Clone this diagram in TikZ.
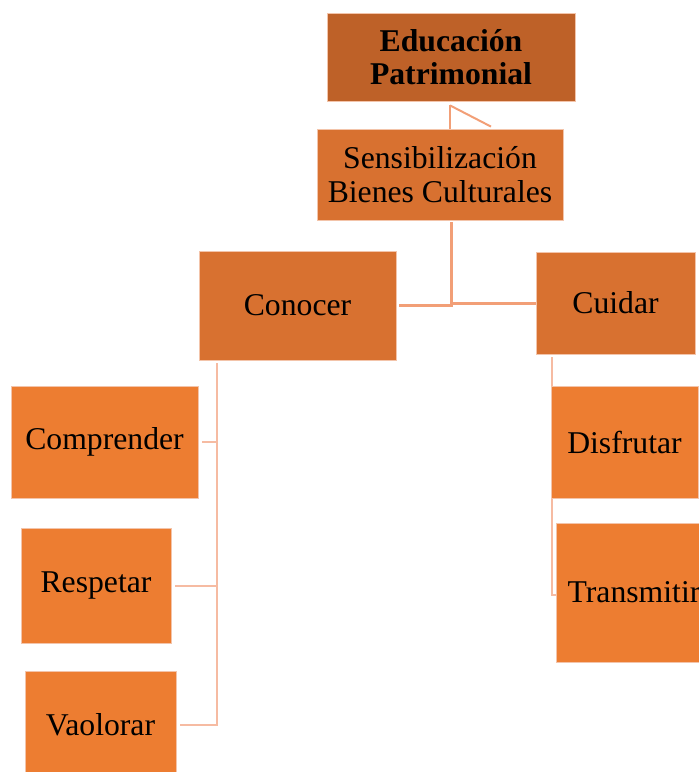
\documentclass[tikz,border=0pt]{standalone}
\usepackage{fontspec}
\setmainfont{Liberation Serif}
\usetikzlibrary{backgrounds}
\definecolor{topfill}{HTML}{BE6128}
\definecolor{midfill}{HTML}{D87130}
\definecolor{leaffill}{HTML}{ED7D31}
\definecolor{linkcol}{HTML}{F29F77}
\definecolor{leafline}{HTML}{F6BBA2}
\definecolor{boxedge}{HTML}{F3C4AA}
\tikzstyle{topbox} = [rectangle, minimum width=124pt, minimum height=44pt, inner sep=0pt, align=center, draw=boxedge, fill=topfill, font=\fontsize{15.85}{16.5}\selectfont\bfseries]
\tikzstyle{midbox} = [rectangle, inner sep=0pt, align=center, draw=boxedge, fill=midfill, font=\fontsize{15.85}{17}\selectfont]
\tikzstyle{leafbox} = [rectangle, inner sep=0pt, align=center, draw=boxedge, fill=leaffill, font=\fontsize{15.85}{17}\selectfont]
\tikzstyle{link} = [line width=1.5pt, draw=linkcol]
\tikzstyle{leaflink} = [line width=1pt, draw=leafline]

\begin{document}
\begin{tikzpicture}[node distance=68pt]
            \useasboundingbox (0,0) rectangle (349.5pt,-386pt);
            \clip (0,0) rectangle (349.5pt,-386pt);
            \node (edu) [topbox] at (225.5pt,-28.5pt) {Educación\\Patrimonial};
            \node (sens) [midbox, minimum width=123pt, minimum height=45.5pt, below of=edu, xshift=-5.5pt, yshift=9.25pt] {Sensibilización\\Bienes Culturales};
            \node (conocer) [midbox, minimum width=98.5pt, minimum height=54.5pt, below of=sens, xshift=-71.25pt, yshift=2.5pt] {Conocer};
            \node (cuidar) [midbox, minimum width=79.5pt, minimum height=51pt, below of=sens, xshift=87.75pt, yshift=3.75pt] {Cuidar};
            \node (comprender) [leafbox, minimum width=93.5pt, minimum height=56pt, below of=conocer, xshift=-96.5pt, yshift=-0.25pt] {Comprender};
            \node (respetar) [leafbox, minimum width=75pt, minimum height=57.5pt, below of=comprender, xshift=-4.25pt, yshift=-3.75pt] {Respetar};
            \node (vaolorar) [leafbox, minimum width=75.5pt, minimum height=54pt, below of=respetar, xshift=2.25pt, yshift=-1.75pt] {Vaolorar};
            \node (disfrutar) [leafbox, minimum width=73.5pt, minimum height=56pt, below of=cuidar, xshift=4.5pt, yshift=-1.5pt] {Disfrutar};
            \node (transmitir) [leafbox, minimum width=78pt, minimum height=69.5pt, below of=disfrutar, xshift=4.75pt, yshift=-7.25pt] {Transmitir};

            \coordinate (eduout) at ([xshift=-0.5pt, yshift=-2pt]edu.south);
            \coordinate (sensout) at ([xshift=5.5pt, yshift=-1pt]sens.south);
            \coordinate (conout) at ([xshift=9pt, yshift=-1.5pt]conocer.south west);
            \coordinate (cuiout) at ([xshift=8.25pt, yshift=-1.5pt]cuidar.south west);

            \begin{scope}[on background layer]
                \draw [link, line width=1pt] (eduout) -- (eduout |- sens.north);
                \draw [link, line width=1pt] (eduout) -- ([xshift=25.5pt, yshift=1pt]sens.north);
                \draw [link] (sensout) |- ([xshift=1.5pt]conocer.east);
                \draw [link] (sensout) |- (cuidar.west);
                \foreach \leaf in {comprender, respetar, vaolorar}
                    \draw [leaflink] (conout) |- ([xshift=2pt]\leaf.east);
                \draw [leaflink] (cuiout) |- (disfrutar.west);
                \draw [leaflink] (cuiout) |- ([yshift=-1.25pt]transmitir.west);
            \end{scope}
        \end{tikzpicture}
\end{document}
